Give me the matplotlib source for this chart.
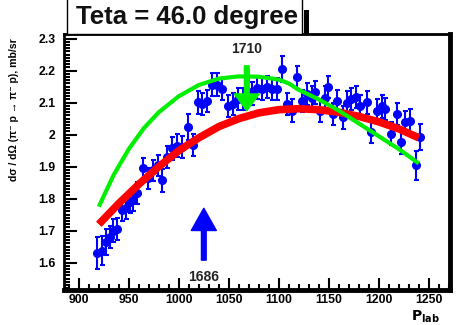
"""
Differential cross section pi- p -> pi- p at fixed angle vs beam momentum.
"""

import matplotlib.pyplot as plt
from matplotlib.patches import Rectangle

plt.rcParams['font.family'] = ['Liberation Sans', 'DejaVu Sans']
plt.rcParams['font.weight'] = 'bold'

# measured points (P_lab, dsigma/dOmega, error)
p_lab = [918, 923, 927, 931, 934, 938, 943, 947, 951, 954,
         958, 964, 969, 974, 979, 983, 988, 993, 998, 1003,
         1009, 1014, 1019, 1023, 1028, 1033, 1038, 1043, 1049, 1054,
         1059, 1064, 1068, 1073, 1078, 1083, 1088, 1093, 1098, 1103,
         1108, 1113, 1118, 1123, 1128, 1133, 1136, 1141, 1146, 1149,
         1154, 1158, 1164, 1168, 1172, 1177, 1181, 1188, 1192, 1198,
         1203, 1206, 1212, 1218, 1222, 1226, 1231, 1237, 1241]
xsec = [1.631, 1.637, 1.665, 1.681, 1.700, 1.705, 1.764, 1.770, 1.790, 1.795,
        1.817, 1.895, 1.863, 1.888, 1.904, 1.857, 1.930, 1.957, 1.966, 1.961,
        2.023, 1.968, 2.101, 2.096, 2.106, 2.156, 2.156, 2.142, 2.090, 2.096,
        2.111, 2.111, 2.137, 2.128, 2.145, 2.142, 2.148, 2.142, 2.142, 2.205,
        2.096, 2.075, 2.179, 2.106, 2.127, 2.116, 2.132, 2.075, 2.116, 2.148,
        2.065, 2.106, 2.054, 2.100, 2.111, 2.118, 2.090, 2.101, 2.008, 2.075,
        2.088, 2.080, 2.003, 2.065, 1.976, 2.039, 2.044, 1.904, 1.992]
xsec_err = [0.050, 0.045, 0.040, 0.035, 0.035, 0.035, 0.035, 0.035, 0.035, 0.035,
            0.035, 0.033, 0.033, 0.033, 0.033, 0.035, 0.035, 0.035, 0.035, 0.035,
            0.040, 0.035, 0.035, 0.035, 0.035, 0.035, 0.035, 0.035, 0.035, 0.035,
            0.035, 0.035, 0.035, 0.035, 0.035, 0.035, 0.035, 0.035, 0.035, 0.040,
            0.035, 0.035, 0.035, 0.035, 0.035, 0.035, 0.035, 0.035, 0.035, 0.035,
            0.035, 0.035, 0.035, 0.035, 0.035, 0.035, 0.035, 0.035, 0.035, 0.035,
            0.035, 0.035, 0.035, 0.035, 0.035, 0.035, 0.035, 0.045, 0.040]

# model curves
green_x = [920, 935, 950, 965, 980, 1000, 1020, 1040, 1060, 1080,
           1100, 1110, 1120, 1140, 1160, 1180, 1200, 1220, 1240]
green_y = [1.775, 1.875, 1.955, 2.020, 2.070, 2.120, 2.155, 2.175, 2.182, 2.181,
           2.172, 2.160, 2.140, 2.110, 2.075, 2.035, 1.995, 1.955, 1.910]
red_x = [920, 940, 960, 980, 1000, 1020, 1040, 1060, 1080,
         1100, 1120, 1140, 1160, 1180, 1200, 1220, 1240]
red_y = [1.720, 1.785, 1.845, 1.900, 1.950, 1.990, 2.025, 2.050, 2.068,
         2.078, 2.081, 2.078, 2.070, 2.057, 2.040, 2.018, 1.990]

# resonance markers: label, position, arrow tail, arrow tip
res_1710 = ("1710", 1068, 2.215, 2.075)
res_1686 = ("1686", 1025, 1.608, 1.770)

fig = plt.figure(figsize=(4.59, 3.25), dpi=100)
ax = fig.add_axes([0.139, 0.108, 0.841, 0.787])

ax.errorbar(p_lab, xsec, yerr=xsec_err, fmt='o', color='blue', ms=5.5,
            elinewidth=1.5, capsize=1.8, capthick=1.5, zorder=3)
ax.plot(red_x, red_y, color='red', lw=5.5, solid_capstyle='butt', zorder=4)
ax.plot(green_x, green_y, color='#00ee00', lw=3, solid_capstyle='butt', zorder=5)

for (label, x, y0, y1), col, hl, dy, va in [
        (res_1710, '#00ee00', 0.6, 0.03, 'bottom'),
        (res_1686, 'blue', 0.8, -0.03, 'top')]:
    ax.annotate('', xy=(x, y1), xytext=(x, y0),
                arrowprops=dict(arrowstyle=f'simple,head_length={hl},head_width=0.9,tail_width=0.17',
                                color=col, shrinkA=0, shrinkB=0, mutation_scale=20),
                zorder=6)
    ax.text(x, y0 + dy, label, ha='center', va=va,
            fontsize=10, fontweight='bold', color='#222222')

ax.set_xlim(885, 1271)
ax.set_ylim(1.515, 2.314)
ax.set_xticks(range(900, 1251, 50))
ax.set_xticks(range(890, 1271, 10), minor=True)
ax.set_yticks([1.6, 1.7, 1.8, 1.9, 2.0, 2.1, 2.2, 2.3])
ax.set_yticklabels(['1.6', '1.7', '1.8', '1.9', '2', '2.1', '2.2', '2.3'])
ax.set_yticks([1.52 + 0.01 * i for i in range(80)], minor=True)
ax.tick_params(which='both', direction='in', top=False, right=False, width=1.5,
               labelsize=8.8)
ax.tick_params(which='major', length=9)
ax.tick_params(axis='y', which='major', pad=6)
ax.tick_params(axis='x', which='major', pad=3)
ax.tick_params(which='minor', length=4)
for lab in ax.get_xticklabels() + ax.get_yticklabels():
    lab.set_fontweight('bold')

for side, lw in [('left', 2), ('top', 2), ('right', 3.5), ('bottom', 3.5)]:
    ax.spines[side].set_linewidth(lw)

ax.text(-0.13, 0.985, 'dσ / dΩ (π⁻ p → π⁻ p), mb/sr', transform=ax.transAxes,
        rotation=90, ha='center', va='top', fontsize=7.6, fontweight='bold')
ax.text(0.975, -0.072, r'$\mathbf{P}_{\mathbf{lab}}$', transform=ax.transAxes,
        ha='right', va='top', fontsize=10)

# title box with shadow, ROOT-like
W, H = 459.0, 325.0
fig.add_artist(Rectangle((67 / W, 1 - 34 / H), (302 - 67) / W, 40 / H,
                         transform=fig.transFigure, facecolor='white',
                         edgecolor='black', lw=1, clip_on=False))
fig.add_artist(Rectangle((304 / W, 1 - 34 / H), 5 / W, 24 / H,
                         transform=fig.transFigure, facecolor='black',
                         edgecolor='none', clip_on=False))
fig.text(187 / W, 1 - 17 / H, 'Teta = 46.0 degree', ha='center', va='center',
         fontsize=18.5, fontweight='bold', color='#111111')

fig.savefig('out.png', dpi=100)
